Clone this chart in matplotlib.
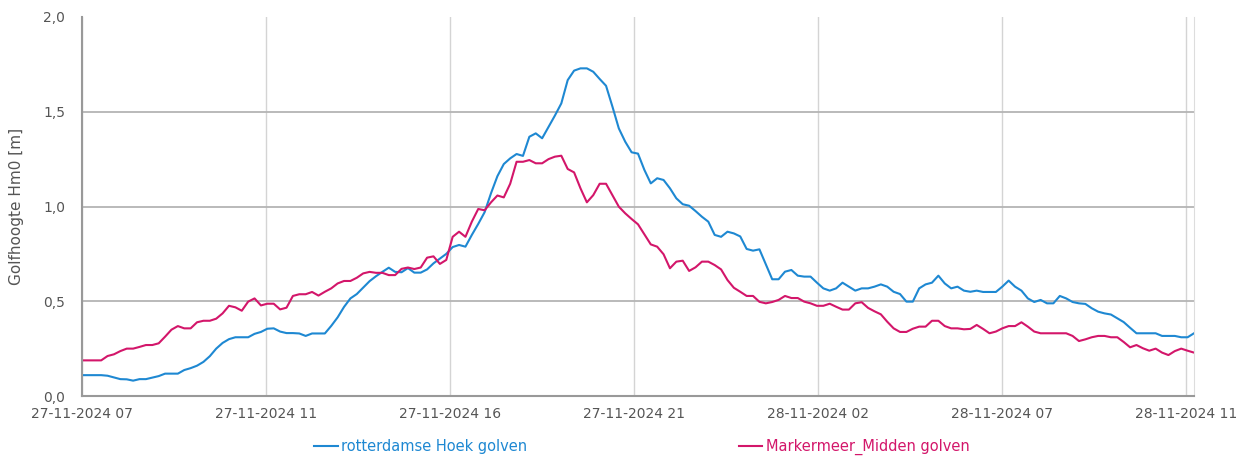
import matplotlib
matplotlib.use("Agg")
import matplotlib.pyplot as plt
import numpy as np
import pandas as pd

start = "2024-11-27 07:00"
step_minutes = 10

rotterdam = [
    0.11, 0.11, 0.11, 0.11, 0.107, 0.098, 0.089, 0.088, 0.081, 0.089,
    0.089, 0.097, 0.105, 0.118, 0.118, 0.118, 0.137, 0.147, 0.16, 0.18,
    0.21, 0.25, 0.28, 0.30, 0.31, 0.31, 0.31, 0.328, 0.338, 0.355,
    0.357, 0.34, 0.332, 0.332, 0.33, 0.317, 0.33, 0.33, 0.33, 0.37,
    0.415, 0.47, 0.515, 0.538, 0.572, 0.606, 0.632, 0.655, 0.677, 0.655,
    0.653, 0.675, 0.651, 0.651, 0.668, 0.70, 0.725, 0.75, 0.786, 0.797,
    0.788, 0.85, 0.908, 0.97, 1.07, 1.16, 1.224, 1.254, 1.277, 1.267,
    1.368, 1.386, 1.36, 1.42, 1.48, 1.544, 1.667, 1.717, 1.729, 1.729,
    1.711, 1.673, 1.637, 1.527, 1.412, 1.342, 1.286, 1.279, 1.193, 1.122,
    1.149, 1.14, 1.096, 1.043, 1.012, 1.004, 0.976, 0.946, 0.92, 0.85,
    0.84, 0.867, 0.858, 0.842, 0.776, 0.767, 0.774, 0.695, 0.616, 0.616,
    0.656, 0.665, 0.635, 0.63, 0.63, 0.598, 0.568, 0.556, 0.568, 0.598,
    0.577, 0.556, 0.568, 0.568, 0.577, 0.589, 0.577, 0.55, 0.538, 0.498,
    0.498, 0.568, 0.589, 0.598, 0.635, 0.594, 0.568, 0.577, 0.556, 0.55,
    0.556, 0.549, 0.549, 0.549, 0.577, 0.609, 0.577, 0.556, 0.515, 0.496,
    0.507, 0.489, 0.489, 0.528, 0.515, 0.496, 0.489, 0.486, 0.463, 0.445,
    0.436, 0.43, 0.41, 0.39, 0.36, 0.331, 0.331, 0.331, 0.331, 0.317,
    0.317, 0.317, 0.31, 0.31, 0.331,
]

markermeer = [
    0.188, 0.188, 0.188, 0.188, 0.211, 0.22, 0.237, 0.25, 0.25, 0.259,
    0.269, 0.269, 0.278, 0.313, 0.35, 0.369, 0.357, 0.357, 0.389, 0.397,
    0.397, 0.408, 0.436, 0.476, 0.468, 0.45, 0.498, 0.515, 0.478, 0.487,
    0.487, 0.457, 0.466, 0.528, 0.537, 0.537, 0.549, 0.53, 0.55, 0.568,
    0.594, 0.607, 0.607, 0.624, 0.647, 0.655, 0.65, 0.65, 0.638, 0.638,
    0.671, 0.678, 0.67, 0.678, 0.73, 0.737, 0.697, 0.718, 0.84, 0.867,
    0.84, 0.92, 0.987, 0.98, 1.022, 1.058, 1.048, 1.12, 1.236, 1.236,
    1.245, 1.228, 1.228, 1.25, 1.263, 1.268, 1.198, 1.18, 1.096, 1.022,
    1.06, 1.12, 1.12, 1.06, 0.999, 0.964, 0.934, 0.906, 0.853, 0.80,
    0.788, 0.748, 0.674, 0.709, 0.714, 0.66, 0.679, 0.709, 0.709, 0.691,
    0.668, 0.612, 0.571, 0.55, 0.528, 0.528, 0.497, 0.489, 0.496, 0.507,
    0.528, 0.517, 0.517, 0.498, 0.489, 0.476, 0.476, 0.487, 0.471, 0.456,
    0.456, 0.489, 0.495, 0.465, 0.447, 0.431, 0.392, 0.357, 0.338, 0.338,
    0.355, 0.366, 0.366, 0.397, 0.397, 0.369, 0.357, 0.357, 0.352, 0.354,
    0.375, 0.354, 0.331, 0.34, 0.357, 0.369, 0.369, 0.389, 0.366, 0.34,
    0.331, 0.331, 0.331, 0.331, 0.331, 0.317, 0.29, 0.299, 0.31, 0.317,
    0.317, 0.31, 0.31, 0.285, 0.257, 0.269, 0.252, 0.239, 0.25, 0.229,
    0.216, 0.237, 0.25, 0.239, 0.229,
]

tick_labels = ["27-11-2024 07", "27-11-2024 11", "27-11-2024 16", "27-11-2024 21",
               "28-11-2024 02", "28-11-2024 07", "28-11-2024 11"]
tick_step_minutes = 288
series_names = ["rotterdamse Hoek golven", "Markermeer_Midden golven"]
ylabel = "Golfhoogte Hm0 [m]"
y_ticks = [0, 0.5, 1.0, 1.5, 2.0]

t0 = pd.Timestamp(start)
times = pd.date_range(t0, periods=len(rotterdam), freq=f"{step_minutes}min")
hours = (times - t0).total_seconds() / 3600.0
tick_pos = [i * tick_step_minutes / 60.0 for i in range(len(tick_labels))]

blue = "#1e88d2"
pink = "#d3166a"
txt = "#555555"

plt.rcParams['font.family'] = ['DejaVu Sans']
fig = plt.figure(figsize=(12.54, 4.57), dpi=100)
ax = fig.add_axes([82/1254, 1-396/457, (1194-82)/1254, (396-17)/457])

l1, = ax.plot(hours, rotterdam, color=blue, lw=1.5, label=series_names[0])
l2, = ax.plot(hours, markermeer, color=pink, lw=1.5, label=series_names[1])

ax.set_xlim(0, 29.0)
ax.set_ylim(0, 2.0)
ax.set_yticks(y_ticks)
ax.set_yticklabels([f"{v:.1f}".replace(".", ",") for v in y_ticks])
ax.set_xticks(tick_pos)
ax.set_xticklabels(tick_labels)

ax.tick_params(axis='both', length=0, labelsize=10, colors=txt)
ax.tick_params(axis='x', pad=8)
ax.tick_params(axis='y', pad=12)

ax.yaxis.grid(True, color="#b4b4b4", lw=1.3)
ax.xaxis.grid(True, color="#d4d4d4", lw=1.0)
ax.set_axisbelow(True)
ax.yaxis.get_gridlines()[-1].set_visible(False)

ax.spines['top'].set_visible(False)
ax.spines['right'].set_color("#dddddd")
ax.spines['left'].set_color("#999999")
ax.spines['bottom'].set_color("#999999")
ax.spines['left'].set_linewidth(1.5)
ax.spines['bottom'].set_linewidth(1.5)

ax.set_ylabel(ylabel, fontsize=11, color=txt, labelpad=14)

leg = fig.legend(handles=[l1, l2], loc='center', bbox_to_anchor=(642/1254, 1-447/457),
                 ncol=2, frameon=False, fontsize=10.5, handlelength=1.6,
                 handletextpad=0.25, columnspacing=14.5, labelcolor='linecolor')

fig.savefig("out.png", dpi=100)
